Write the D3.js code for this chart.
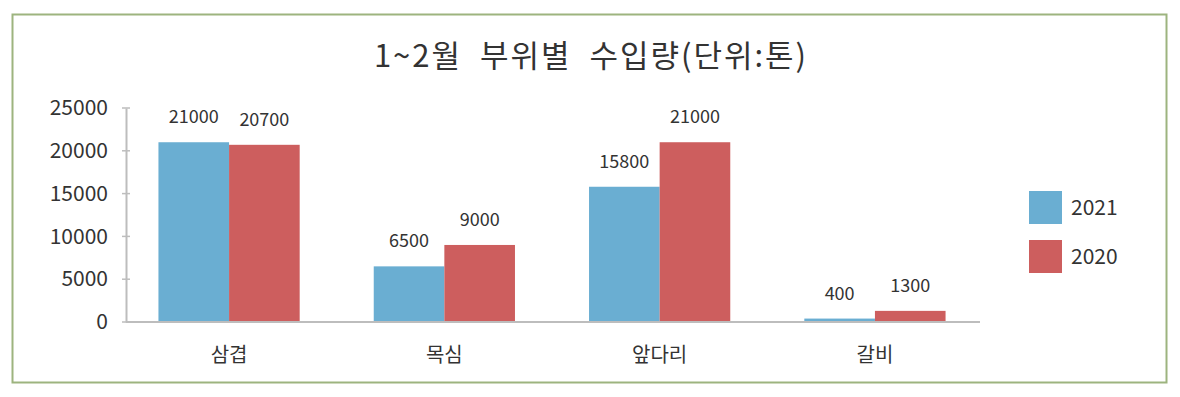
<!DOCTYPE html>
<html>
<head>
<meta charset="utf-8">
<script src="https://cdn.jsdelivr.net/npm/d3@7"></script>
<style>
  body { margin: 0; background: #fff; }
  svg text { font-family: "Noto Sans CJK KR", "Noto Sans", sans-serif; fill: #333; }
</style>
</head>
<body>
<div id="chart"></div>
<script>
const categories = ['삼겹', '목심', '앞다리', '갈비'];
const seriesNames = ['2021', '2020'];
const values2021 = [21000, 6500, 15800, 400];
const values2020 = [20700, 9000, 21000, 1300];
const yTicks = [0, 5000, 10000, 15000, 20000, 25000];
const colors = ['#6aaed2', '#cd5e5e'];

const width = 1180, height = 397;
const margin = { top: 108, right: 200, bottom: 75, left: 126 };

const svg = d3.select('#chart').append('svg')
  .attr('width', width)
  .attr('height', height);

// outer frame
svg.append('rect')
  .attr('x', 12.5).attr('y', 14.5)
  .attr('width', 1154).attr('height', 368)
  .attr('fill', 'none')
  .attr('stroke', '#9db47f')
  .attr('stroke-width', 2);

// title
svg.append('text')
  .attr('x', 591).attr('y', 67)
  .attr('text-anchor', 'middle')
  .style('font-size', '31px')
  .style('letter-spacing', '2px')
  .style('white-space', 'pre')
  .text('1~2월  부위별  수입량(단위:톤)');

const x = d3.scaleBand()
  .domain(categories)
  .range([margin.left - 2, 980])
  .paddingInner(0.344)
  .paddingOuter(0.16);

const xSub = d3.scaleBand()
  .domain(seriesNames)
  .range([0, x.bandwidth()]);

const y = d3.scaleLinear()
  .domain([0, 25000])
  .range([322, margin.top]);

// y axis
const yAxis = svg.append('g')
  .attr('transform', `translate(${margin.left},0)`)
  .call(d3.axisLeft(y).tickValues(yTicks).tickFormat(d3.format('d')).tickSize(0).tickPadding(18));
yAxis.select('.domain').attr('stroke', '#bdbdbd').attr('stroke-width', 2);
yAxis.selectAll('text').style('font-size', '21px').attr('fill', '#333');

// tick marks across axis
svg.append('g').selectAll('line')
  .data(yTicks)
  .enter().append('line')
  .attr('x1', margin.left - 4).attr('x2', margin.left + 4)
  .attr('y1', d => y(d)).attr('y2', d => y(d))
  .attr('stroke', '#bdbdbd').attr('stroke-width', 1.5);

const data = categories.map((c, i) => ({
  category: c,
  values: [
    { series: '2021', value: values2021[i] },
    { series: '2020', value: values2020[i] }
  ]
}));

const groups = svg.selectAll('.group')
  .data(data)
  .enter().append('g')
  .attr('class', 'group')
  .attr('transform', d => `translate(${x(d.category)},0)`);

groups.selectAll('rect')
  .data(d => d.values)
  .enter().append('rect')
  .attr('x', d => xSub(d.series))
  .attr('y', d => y(d.value))
  .attr('width', xSub.bandwidth())
  .attr('height', d => y(0) - y(d.value))
  .attr('fill', (d, i) => colors[i]);

groups.selectAll('.label')
  .data(d => d.values)
  .enter().append('text')
  .attr('class', 'label')
  .attr('x', d => xSub(d.series) + xSub.bandwidth() / 2)
  .attr('y', d => y(d.value) - 19)
  .attr('text-anchor', 'middle')
  .style('font-size', '18px')
  .text(d => d.value);

// x axis baseline
svg.append('line')
  .attr('x1', margin.left).attr('x2', 980)
  .attr('y1', y(0)).attr('y2', y(0))
  .attr('stroke', '#bdbdbd').attr('stroke-width', 2);

svg.append('g').selectAll('text')
  .data(categories)
  .enter().append('text')
  .attr('x', d => x(d) + x.bandwidth() / 2)
  .attr('y', 362)
  .attr('text-anchor', 'middle')
  .style('font-size', '20px')
  .text(d => d);

// legend
const legend = svg.append('g')
  .attr('transform', 'translate(1029,191)');
seriesNames.forEach((s, i) => {
  legend.append('rect')
    .attr('x', 0).attr('y', i * 49)
    .attr('width', 33).attr('height', 33)
    .attr('fill', colors[i]);
  legend.append('text')
    .attr('x', 42).attr('y', i * 49 + 24)
    .style('font-size', '21px')
    .text(s);
});
</script>
</body>
</html>
